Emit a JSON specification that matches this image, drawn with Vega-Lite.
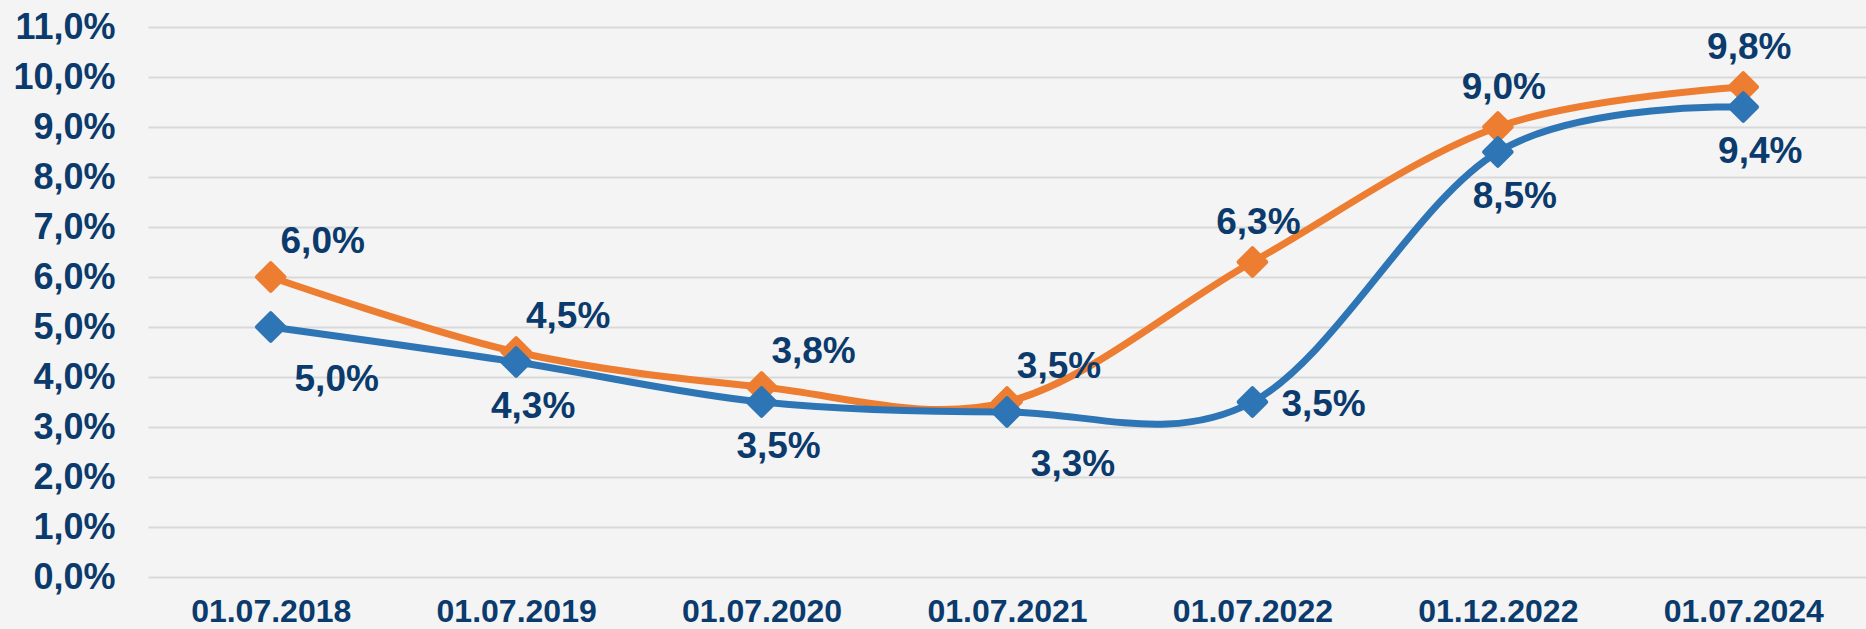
{
  "$schema": "https://vega.github.io/schema/vega-lite/v6.json",
  "autosize": {"type": "none"},
  "width": 1718,
  "height": 550,
  "padding": {"left": 148, "top": 27, "right": 0, "bottom": 52},
  "background": "#f4f4f4",
  "config": {
    "view": {"stroke": null},
    "font": "Liberation Sans"
  },
  "data": {
    "values": [
      {"date": "01.07.2018", "series": "blue", "value": 5.0},
      {"date": "01.07.2019", "series": "blue", "value": 4.3},
      {"date": "01.07.2020", "series": "blue", "value": 3.5},
      {"date": "01.07.2021", "series": "blue", "value": 3.3},
      {"date": "01.07.2022", "series": "blue", "value": 3.5},
      {"date": "01.12.2022", "series": "blue", "value": 8.5},
      {"date": "01.07.2024", "series": "blue", "value": 9.4},
      {"date": "01.07.2018", "series": "orange", "value": 6.0},
      {"date": "01.07.2019", "series": "orange", "value": 4.5},
      {"date": "01.07.2020", "series": "orange", "value": 3.8},
      {"date": "01.07.2021", "series": "orange", "value": 3.5},
      {"date": "01.07.2022", "series": "orange", "value": 6.3},
      {"date": "01.12.2022", "series": "orange", "value": 9.0},
      {"date": "01.07.2024", "series": "orange", "value": 9.8}
    ]
  },
  "transform": [
    {"calculate": "replace(format(datum.value, '.1f'), '.', ',') + '%'", "as": "label"}
  ],
  "encoding": {
    "x": {
      "field": "date", "type": "ordinal", "sort": null,
      "scale": {"type": "point", "padding": 0.5},
      "axis": {
        "title": null, "labelAngle": 0, "domain": false, "ticks": false, "grid": false,
        "labelFont": "Liberation Sans", "labelFontWeight": "bold", "labelFontSize": 32,
        "labelColor": "#0b3a6c", "labelBaseline": "alphabetic", "labelPadding": 44
      }
    },
    "y": {
      "field": "value", "type": "quantitative",
      "scale": {"domain": [0, 11], "nice": false, "zero": true},
      "axis": {
        "title": null, "values": [0,1,2,3,4,5,6,7,8,9,10,11],
        "labelExpr": "replace(format(datum.value, '.1f'), '.', ',') + '%'",
        "domain": false, "ticks": false, "grid": true, "gridColor": "#d9d9d9", "gridWidth": 2,
        "labelFont": "Liberation Sans", "labelFontWeight": "bold", "labelFontSize": 36,
        "labelColor": "#0b3a6c", "labelPadding": 33
      }
    },
    "color": {
      "field": "series", "type": "nominal",
      "scale": {"domain": ["blue", "orange"], "range": ["#2e75b6", "#ed7d31"]},
      "legend": null
    }
  },
  "layer": [
    {
      "transform": [{"filter": "datum.series == 'orange'"}],
      "mark": {"type": "line", "interpolate": "cardinal", "tension": 0, "strokeWidth": 7, "strokeCap": "round"}
    },
    {
      "transform": [{"filter": "datum.series == 'orange'"}],
      "mark": {"type": "point", "shape": "diamond", "size": 760, "filled": true, "opacity": 1, "strokeWidth": 4, "strokeJoin": "round"},
      "encoding": {"stroke": {"field": "series", "type": "nominal", "scale": {"domain": ["blue", "orange"], "range": ["#2e75b6", "#ed7d31"]}, "legend": null}}
    },
    {
      "transform": [{"filter": "datum.series == 'blue'"}],
      "mark": {"type": "line", "interpolate": "cardinal", "tension": 0, "strokeWidth": 7, "strokeCap": "round"}
    },
    {
      "transform": [{"filter": "datum.series == 'blue'"}],
      "mark": {"type": "point", "shape": "diamond", "size": 760, "filled": true, "opacity": 1, "strokeWidth": 4, "strokeJoin": "round"},
      "encoding": {"stroke": {"field": "series", "type": "nominal", "scale": {"domain": ["blue", "orange"], "range": ["#2e75b6", "#ed7d31"]}, "legend": null}}
    },
    {
      "transform": [{"filter": "datum.series == 'orange' && indexof(['01.07.2018','01.07.2019','01.07.2020','01.07.2021'], datum.date) >= 0"}],
      "mark": {"type": "text", "font": "Liberation Sans", "fontWeight": "bold", "fontSize": 37, "align": "center", "baseline": "alphabetic", "dx": 52, "dy": -24},
      "encoding": {"text": {"field": "label", "type": "nominal"}, "color": {"value": "#0b3a6c"}}
    },
    {
      "transform": [{"filter": "datum.series == 'orange' && indexof(['01.07.2022','01.12.2022','01.07.2024'], datum.date) >= 0"}],
      "mark": {"type": "text", "font": "Liberation Sans", "fontWeight": "bold", "fontSize": 37, "align": "center", "baseline": "alphabetic", "dx": 6, "dy": -28},
      "encoding": {"text": {"field": "label", "type": "nominal"}, "color": {"value": "#0b3a6c"}}
    },
    {
      "transform": [{"filter": "datum.series == 'blue' && indexof(['01.07.2018','01.07.2021'], datum.date) >= 0"}],
      "mark": {"type": "text", "font": "Liberation Sans", "fontWeight": "bold", "fontSize": 37, "align": "center", "baseline": "alphabetic", "dx": 66, "dy": 64},
      "encoding": {"text": {"field": "label", "type": "nominal"}, "color": {"value": "#0b3a6c"}}
    },
    {
      "transform": [{"filter": "datum.series == 'blue' && indexof(['01.07.2019','01.07.2020','01.12.2022','01.07.2024'], datum.date) >= 0"}],
      "mark": {"type": "text", "font": "Liberation Sans", "fontWeight": "bold", "fontSize": 37, "align": "center", "baseline": "alphabetic", "dx": 17, "dy": 56},
      "encoding": {"text": {"field": "label", "type": "nominal"}, "color": {"value": "#0b3a6c"}}
    },
    {
      "transform": [{"filter": "datum.series == 'blue' && datum.date == '01.07.2022'"}],
      "mark": {"type": "text", "font": "Liberation Sans", "fontWeight": "bold", "fontSize": 37, "align": "left", "baseline": "alphabetic", "dx": 29, "dy": 14},
      "encoding": {"text": {"field": "label", "type": "nominal"}, "color": {"value": "#0b3a6c"}}
    }
  ]
}
